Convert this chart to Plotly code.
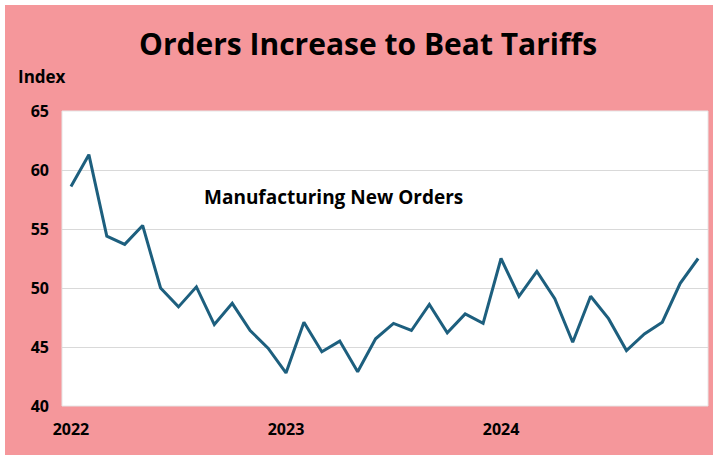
import plotly.graph_objects as go

# ---- data ----
years = [2022, 2023, 2024]
month_names = ["Jan", "Feb", "Mar", "Apr", "May", "Jun",
               "Jul", "Aug", "Sep", "Oct", "Nov", "Dec"]
months = [f"{m} {y}" for y in years for m in month_names]
new_orders = [58.6, 61.3, 54.4, 53.7, 55.3, 50.0, 48.4, 50.1, 46.9, 48.7, 46.4, 44.9,
              42.8, 47.1, 44.6, 45.5, 42.9, 45.7, 47.0, 46.4, 48.6, 46.2, 47.8, 47.0,
              52.5, 49.3, 51.4, 49.1, 45.4, 49.3, 47.4, 44.7, 46.1, 47.1, 50.4, 52.5]
year_ticks = [f"Jan {y}" for y in years]
year_labels = [str(y) for y in years]
y_ticks = [40, 45, 50, 55, 60, 65]

# ---- layout geometry (pixels) ----
W, H = 718, 460
L, R, T, B = 62, 10, 111, 54
pw, ph = W - L - R, H - T - B


def px_x(p):
    return (p - L) / pw


def px_y(p):
    return (H - B - p) / ph


PINK = "#F5979B"
LINE = "#1D5F7E"
FONT = "Open Sans"

fig = go.Figure()
fig.add_trace(go.Scatter(
    x=months, y=new_orders, mode="lines",
    line=dict(color=LINE, width=3), hoverinfo="x+y", showlegend=False,
))

fig.update_layout(
    width=W, height=H,
    margin=dict(l=L, r=R, t=T, b=B),
    paper_bgcolor="white",
    plot_bgcolor="white",
    font=dict(family=FONT, color="black"),
    shapes=[
        dict(type="rect", xref="paper", yref="paper", layer="below",
             x0=px_x(5), x1=px_x(713), y0=px_y(455), y1=px_y(5),
             fillcolor=PINK, line=dict(width=0)),
        dict(type="rect", xref="paper", yref="paper", layer="below",
             x0=0, x1=1, y0=0, y1=1,
             fillcolor="white", line=dict(color="#e6e6e6", width=1)),
    ],
    annotations=[
        dict(text="<b>Orders Increase to Beat Tariffs</b>", xref="paper", yref="paper",
             x=px_x(368), y=px_y(43), xanchor="center", yanchor="middle",
             showarrow=False, font=dict(family=FONT, size=30, color="black")),
        dict(text="<b>Index</b>", xref="paper", yref="paper",
             x=px_x(16), y=px_y(76), xanchor="left", yanchor="middle",
             showarrow=False, font=dict(family=FONT, size=17, color="black")),
        dict(text="<b>Manufacturing New Orders</b>", xref="paper", yref="paper",
             x=px_x(333), y=px_y(197), xanchor="center", yanchor="middle",
             showarrow=False, font=dict(family=FONT, size=19, color="black")),
    ],
)

fig.update_xaxes(
    type="category", categoryorder="array", categoryarray=months,
    range=[-0.5, 35.55],
    tickvals=year_ticks, ticktext=year_labels,
    tickfont=dict(family=FONT, size=16, color="black", weight="bold"),
    showgrid=False, zeroline=False, showline=False, ticks="",
    ticklabelstandoff=12,
)
fig.update_yaxes(
    range=[40, 65], tickvals=y_ticks,
    tickfont=dict(family=FONT, size=16, color="black", weight="bold"),
    showgrid=True, gridcolor="#d9d9d9", gridwidth=1,
    zeroline=False, showline=False, ticks="",
    ticklabelstandoff=12,
)

fig.write_html("out.html", config={"displayModeBar": False},
               post_script="document.body.style.margin='0';")
